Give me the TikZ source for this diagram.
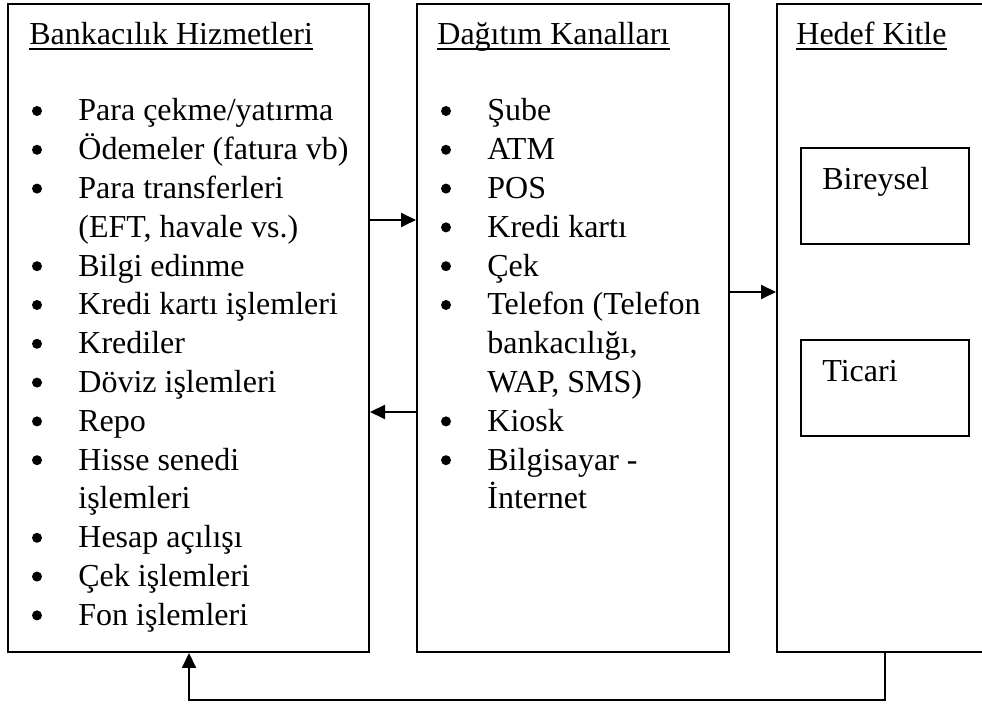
\documentclass[tikz,border=0pt]{standalone}
\usepackage{fontspec}
\setmainfont{Liberation Serif}
\usetikzlibrary{arrows.meta,fit}
\begin{document}
\begin{tikzpicture}[x=0.5pt,y=-0.5pt,
  frame/.style={draw,line width=1pt,inner sep=0pt,fit=#1},
  txt/.style={anchor=base west,inner sep=0pt,font=\fontsize{16}{19}\selectfont},
  dot/.style={circle,fill,inner sep=0pt,minimum size=5pt},
  arr/.style={line width=1pt,-{Triangle[length=7.5pt,width=7pt]}},
  uline/.style={line width=0.75pt},
]
\useasboundingbox (0,0) rectangle (982,704);
\clip (0,0) rectangle (982,704);

% column frames
\coordinate (c1a) at (8,4);   \coordinate (c1b) at (369,652);
\coordinate (c2a) at (417,4); \coordinate (c2b) at (729,652);
\coordinate (c3a) at (777,4); \coordinate (c3b) at (1010,652);
\node[frame={(c1a)(c1b)}] (b1) {};
\node[frame={(c2a)(c2b)}] (b2) {};
\node[frame={(c3a)(c3b)}] (b3) {};

% target-group boxes
\coordinate (s1a) at (801,148); \coordinate (s1b) at (969,244);
\coordinate (s2a) at (801,340); \coordinate (s2b) at (969,436);
\node[frame={(s1a)(s1b)}] (g1) {};
\node[frame={(s2a)(s2b)}] (g2) {};
\node[txt] (g1t) at (822,190) {Bireysel};
\node[txt] (g2t) at (822,382) {Ticari};

% headings
\node[txt] (t1) at (29,45) {Bankacılık Hizmetleri};
\node[txt] (t2) at (437,45) {Dağıtım Kanalları};
\node[txt] (t3) at (796,45) {Hedef Kitle};
\foreach \t in {t1,t2,t3}
  \draw[uline] ([yshift=-2pt]\t.base west) -- ([yshift=-2pt]\t.base east);

% banking services
\foreach \s [count=\i from 0] in {Para çekme/yatırma, Ödemeler (fatura vb),
    Para transferleri, {(EFT, havale vs.)}, Bilgi edinme, Kredi kartı işlemleri,
    Krediler, Döviz işlemleri, Repo, Hisse senedi, işlemleri, Hesap açılışı,
    Çek işlemleri, Fon işlemleri}
  \node[txt] (a\i) at (78,{121+38.8*\i}) {\s};
\foreach \i in {0,1,2,4,5,6,7,8,9,11,12,13}
  \node[dot] (ad\i) at (37,{111+38.8*\i}) {};

% distribution channels
\foreach \s [count=\i from 0] in {Şube, ATM, POS, Kredi kartı, Çek,
    Telefon (Telefon, {bankacılığı,}, {WAP, SMS)}, Kiosk, Bilgisayar -, İnternet}
  \node[txt] (k\i) at (487,{121+38.8*\i}) {\s};
\foreach \i in {0,1,2,3,4,5,8,9}
  \node[dot] (kd\i) at (446,{111+38.8*\i}) {};

% connectors
\coordinate (y1) at (0,220);
\coordinate (y2) at (0,412);
\coordinate (y3) at (0,292);
\draw[arr] (b1.east |- y1) -- (b2.west |- y1);
\draw[arr] (b2.west |- y2) -- (b1.east |- y2);
\draw[arr] (b2.east |- y3) -- (b3.west |- y3);
\coordinate (fr) at (885,700);
\coordinate (fl) at (189,700);
\draw[arr] (b3.south -| fr) -- (fr) -- (fl) -- (b1.south -| fl);
\end{tikzpicture}
\end{document}
